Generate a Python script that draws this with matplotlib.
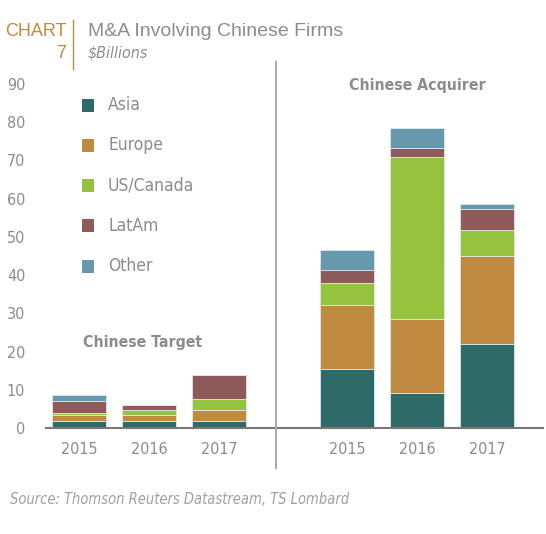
import matplotlib
matplotlib.use("Agg")
import matplotlib.pyplot as plt
from matplotlib.lines import Line2D
from matplotlib.patches import Rectangle

years = ["2015", "2016", "2017"]
regions = ["Asia", "Europe", "US/Canada", "LatAm", "Other"]
colors = ["#2e6b68", "#c08a40", "#96c33d", "#8f5a5a", "#6699ae"]

target_asia = [1.8, 1.8, 1.8]
target_europe = [1.5, 1.6, 2.9]
target_us = [0.7, 1.3, 2.8]
target_latam = [3.1, 1.2, 6.3]
target_other = [1.5, 0.1, 0.1]

acq_asia = [15.4, 9.1, 22.0]
acq_europe = [16.8, 19.4, 23.1]
acq_us = [5.7, 42.5, 6.6]
acq_latam = [3.5, 2.3, 5.5]
acq_other = [5.2, 5.3, 1.5]

yticks = [0, 10, 20, 30, 40, 50, 60, 70, 80, 90]

grey = "#8c8c8c"
gold = "#c08a40"
COND = dict(family="DejaVu Sans", stretch="condensed")

fig = plt.figure(figsize=(5.46, 5.34), dpi=100)
ax = fig.add_axes([46 / 546, 106 / 534, 497 / 546, 344 / 534])

x_target = [0, 1, 2]
x_acq = [3.83, 4.83, 5.83]
target = [target_asia, target_europe, target_us, target_latam, target_other]
acq = [acq_asia, acq_europe, acq_us, acq_latam, acq_other]

for xs, series in ((x_target, target), (x_acq, acq)):
    bottom = [0, 0, 0]
    for vals, c in zip(series, colors):
        ax.bar(xs, vals, bottom=bottom, width=0.77, color=c,
               edgecolor="#dce8ec", linewidth=0.6)
        bottom = [b + v for b, v in zip(bottom, vals)]

ax.set_xlim(-0.47, 6.63)
ax.set_ylim(0, 90)
ax.set_yticks(yticks)
ax.set_yticklabels([str(t) for t in yticks], fontsize=11.5, color=grey, **COND)
ax.set_xticks(x_target + x_acq)
ax.set_xticklabels(years + years, fontsize=11.5, color=grey, **COND)
ax.tick_params(length=0, pad=15, axis="y")
ax.tick_params(length=0, pad=10, axis="x")
for s in ["top", "right", "left"]:
    ax.spines[s].set_visible(False)
ax.spines["bottom"].set_color("#777777")
ax.spines["bottom"].set_linewidth(1.5)

# divider
fig.add_artist(Line2D([276 / 546, 276 / 546], [1 - 62 / 534, 1 - 468 / 534],
                      color="#aaaaaa", linewidth=1.5))

ax.text(0.91, 22.5, "Chinese Target", ha="center", va="center",
        fontsize=11.3, fontweight="bold", color=grey, **COND)
ax.text(4.83, 89.5, "Chinese Acquirer", ha="center", va="center",
        fontsize=11.3, fontweight="bold", color=grey, **COND)

# legend
for i, (r, c) in enumerate(zip(regions, colors)):
    yc = 1 - (105 + 40.3 * i) / 534
    fig.add_artist(Rectangle((82 / 546, yc - 6.5 / 534), 12 / 546, 13 / 534,
                             facecolor=c, edgecolor="none",
                             transform=fig.transFigure))
    fig.text(108 / 546, yc, r, ha="left", va="center",
             fontsize=12.5, color=grey, **COND)

# header
fig.text(66 / 546, 1 - 31 / 534, "CHART", ha="right", va="center",
         fontsize=13, color=gold, family=["Liberation Sans", "DejaVu Sans"])
fig.text(66 / 546, 1 - 53 / 534, "7", ha="right", va="center",
         fontsize=13, color=gold, family=["Liberation Sans", "DejaVu Sans"])
fig.add_artist(Line2D([73 / 546, 73 / 546], [1 - 20 / 534, 1 - 69 / 534],
                      color=gold, linewidth=1))
fig.text(88 / 546, 1 - 31 / 534, "M&A Involving Chinese Firms", ha="left",
         va="center", fontsize=14, color=grey,
         family=["Liberation Sans", "DejaVu Sans"])
fig.text(88 / 546, 1 - 53 / 534, "$Billions", ha="left", va="center",
         fontsize=11.5, color=grey, style="italic", **COND)
fig.text(10 / 546, 1 - 499 / 534,
         "Source: Thomson Reuters Datastream, TS Lombard", ha="left",
         va="center", fontsize=10.5, color="#a0a0a0", style="italic", **COND)

fig.savefig("out.png", dpi=100, facecolor="white")
